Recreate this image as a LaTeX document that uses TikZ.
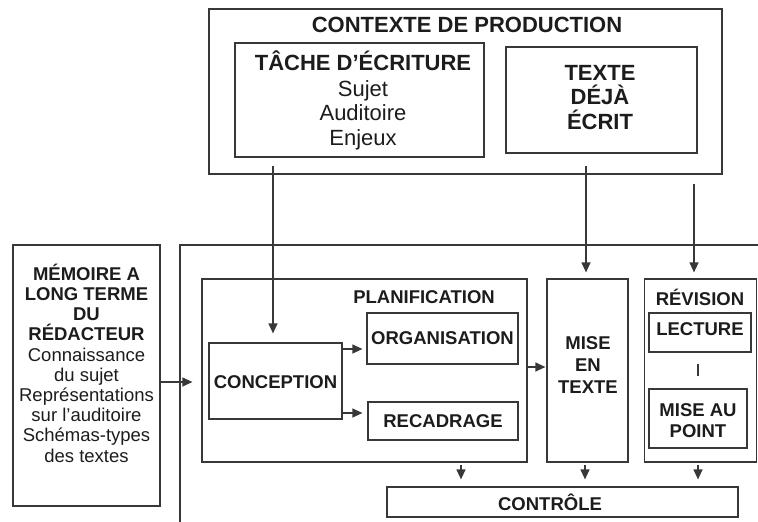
\documentclass[tikz,border=0pt]{standalone}
\usepackage{fontspec}
\setmainfont{Liberation Sans}
\usetikzlibrary{arrows.meta,calc}
\definecolor{linec}{HTML}{383838}
\definecolor{txtc}{HTML}{1c1c1c}
\tikzset{
  box/.style={draw=linec, line width=1.2pt, inner sep=0pt, anchor=center},
  arr/.style={draw=linec, line width=1.2pt, -{Triangle[width=9pt,length=10pt]}},
  plainline/.style={draw=linec, line width=1.2pt},
  lab/.style={text=txtc, inner sep=0pt, align=center, font=\fontsize{18.5}{20.2}\selectfont\bfseries},
  biglab/.style={text=txtc, inner sep=0pt, align=center, font=\fontsize{22}{24.5}\selectfont\bfseries},
}
\begin{document}
\begin{tikzpicture}[x=1pt,y=-1pt]
\useasboundingbox (0,0) rectangle (758,522);
% boxes
\node[box, minimum width=513pt, minimum height=165pt] (ctx) at (465.5,91.5) {};
\node[box, minimum width=249pt, minimum height=114pt] (tache) at (359.5,100) {};
\node[box, minimum width=191pt, minimum height=106pt] (texte) at (601.5,100) {};
\node[box, minimum width=147pt, minimum height=261pt] (mem) at (86.5,375.5) {};
\node[box, minimum width=325pt, minimum height=183pt] (plan) at (364.5,370.5) {};
\node[box, minimum width=133pt, minimum height=76pt] (conc) at (275.5,381) {};
\node[box, minimum width=151pt, minimum height=51pt] (orga) at (442.5,338.5) {};
\node[box, minimum width=150pt, minimum height=38pt] (reca) at (443,421) {};
\node[box, minimum width=81pt, minimum height=183pt] (mise) at (587.5,370.5) {};
\node[box, minimum width=112pt, minimum height=183pt] (rev) at (700.5,370.5) {};
\node[box, minimum width=102pt, minimum height=39pt] (lect) at (700,332.5) {};
\node[box, minimum width=98pt, minimum height=59pt] (map) at (698,418.5) {};
\node[box, minimum width=351pt, minimum height=30pt] (ctrl) at (562.5,502) {};
% open frame
\coordinate (f1) at (180,522);
\coordinate (f2) at (180,245);
\coordinate (f3) at (758,245);
\draw[plainline] (f1) -- (f2) -- (f3);
% labels
\node[biglab] (tctx) at (467,25) {CONTEXTE DE PRODUCTION};
\node[biglab] (ttache) at (363,100.5) {TÂCHE D’ÉCRITURE\\[1pt]{\mdseries Sujet}\\{\mdseries Auditoire}\\{\mdseries Enjeux}};
\node[biglab] (ttexte) at (600,97.5) {TEXTE\\DÉJÀ\\ÉCRIT};
\node[lab] (tmem) at (86.5,363) {MÉMOIRE A\\LONG TERME\\DU\\RÉDACTEUR\\{\mdseries Connaissance}\\{\mdseries du sujet}\\{\mdseries Représentations}\\{\mdseries sur l’auditoire}\\{\mdseries Schémas-types}\\{\mdseries des textes}};
\node[lab] (tplan) at (424,297) {PLANIFICATION};
\node[lab] (tconc) at (275.5,382) {CONCEPTION};
\node[lab] (torga) at (442.5,338) {ORGANISATION};
\node[lab] (treca) at (443,421) {RECADRAGE};
\node[lab, font=\fontsize{18.5}{22}\selectfont\bfseries] (tmise) at (588,365) {MISE\\EN\\TEXTE};
\node[lab] (trev) at (700,297) {RÉVISION};
\node[lab] (tlect) at (700,329.5) {LECTURE};
\node[lab, font=\fontsize{18.5}{21}\selectfont\bfseries] (tmap) at (698,421) {MISE AU\\POINT};
\node[lab] (tctrl) at (550,502) {CONTRÔLE};
% connectors
\coordinate (s1) at (273,166);
\coordinate (s2) at (586,166);
\coordinate (s3) at (694,184);
\draw[arr, shorten >=9pt] (s1) -- (s1 |- conc.north);
\draw[arr, shorten >=6pt] (s2) -- (s2 |- mise.north);
\draw[arr, shorten >=6pt] (s3) -- (s3 |- rev.north);
\draw[arr, shorten >=9pt] ([yshift=-6.5pt]mem.east) -- ([yshift=-6.5pt]mem.east -| plan.west);
\draw[arr, shorten >=4pt] ([yshift=32pt]conc.east) -- ([yshift=32pt]conc.east -| orga.west);
\draw[arr, shorten >=5pt] ([yshift=-32pt]conc.east) -- ([yshift=-32pt]conc.east -| reca.west);
\draw[arr, shorten >=1pt] ([yshift=3.5pt]plan.east) -- ([yshift=3.5pt]plan.east -| mise.west);
\coordinate (d1) at (461,465);
\coordinate (d2) at (585,465);
\coordinate (d3) at (698,465);
\draw[arr, shorten >=7pt] (d1) -- (d1 |- ctrl.north);
\draw[arr, shorten >=7pt] (d2) -- (d2 |- ctrl.north);
\draw[arr, shorten >=7pt] (d3) -- (d3 |- ctrl.north);
\draw[plainline] ([yshift=-11pt]map.north |- lect.south) -- ([yshift=12pt]map.north);
\end{tikzpicture}
\end{document}
